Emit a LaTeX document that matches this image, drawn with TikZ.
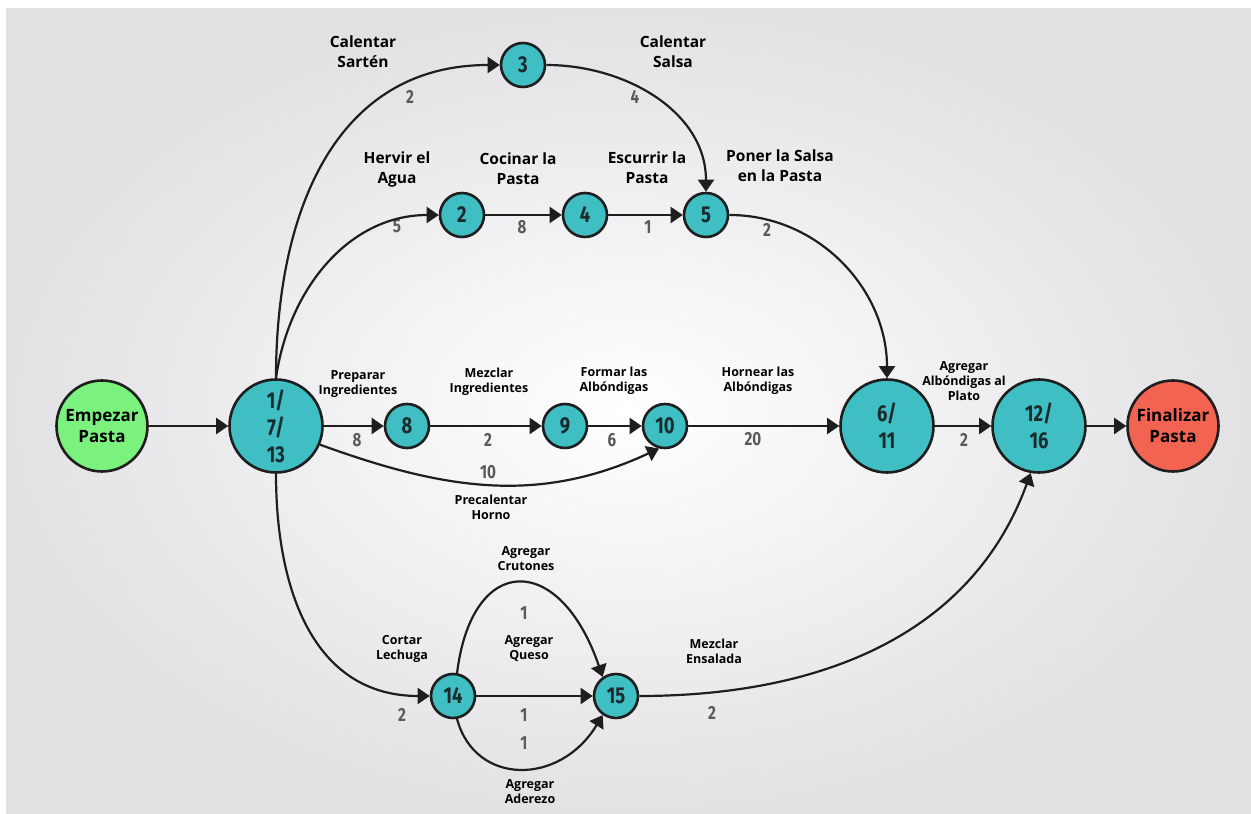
\documentclass[tikz,border=0pt]{standalone}
\usepackage{fontspec}
\setmainfont{Open Sans}
\newfontfamily\numfont[FakeStretch=0.8]{Fira Sans}
\usepackage{xcolor}
\usepackage{tikz}
\usetikzlibrary{arrows.meta}
\definecolor{cpmTeal}{HTML}{3FBEC4}
\definecolor{cpmGreen}{HTML}{7BF27E}
\definecolor{cpmRed}{HTML}{F26451}
\definecolor{cpmLine}{HTML}{1E1E1E}
\definecolor{cpmInk}{HTML}{1B2A2C}
\definecolor{cpmGray}{HTML}{5A5A5A}
\definecolor{cpmBg}{HTML}{E2E2E5}
\tikzset{
  evento/.style={
    circle,
    draw=cpmLine,
    line width=2.6pt,
    fill=cpmTeal,
    text=cpmInk,
    inner sep=0pt,
    align=center,
    font=\numfont\bfseries\fontsize{23}{27}\selectfont
  },
  chico/.style={evento, minimum size=44pt},
  grande/.style={evento, minimum size=93pt},
  extremo/.style={
    circle,
    draw=cpmLine,
    line width=2.6pt,
    minimum size=91pt,
    inner sep=0pt,
    align=center,
    text=black,
    font=\bfseries\fontsize{17}{21}\selectfont
  },
  tarea/.style={align=center, text=black, font=\bfseries\fontsize{15.5}{20}\selectfont},
  tareaS/.style={align=center, text=black, font=\bfseries\fontsize{12.5}{15}\selectfont},
  peso/.style={text=cpmGray, font=\numfont\bfseries\fontsize{19}{19}\selectfont},
  flecha/.style={-{Triangle[length=12pt,width=16pt]}, line width=2.2pt, draw=cpmLine}
}

\begin{document}
\begin{tikzpicture}[x=1pt,y=1pt]
  % fondo
  \useasboundingbox (0,0) rectangle (1251,814);
  \fill[white] (0,0) rectangle (1251,814);
  \shade[inner color=white, outer color=cpmBg] (6,0) rectangle (1251,805);

  % eventos
  \node[extremo, fill=cpmGreen] (inicio) at (102,388) {Empezar\\Pasta};
  \node[grande] (n1) at (276,388) {1/\\7/\\13};
  \node[chico] (n3) at (523,749) {3};
  \node[chico] (n2) at (462,599) {2};
  \node[chico] (n4) at (585,599) {4};
  \node[chico] (n5) at (706,599) {5};
  \node[chico] (n8) at (407,388) {8};
  \node[chico] (n9) at (565,388) {9};
  \node[chico] (n10) at (665,388) {10};
  \node[grande] (n6) at (887,388) {6/\\11};
  \node[grande] (n12) at (1039,388) {12/\\16};
  \node[extremo, fill=cpmRed] (fin) at (1173,388) {Finalizar\\Pasta};
  \node[chico] (n14) at (453,118) {14};
  \node[chico] (n15) at (616,118) {15};

  % actividades
  \node[tarea] (tSarten) at (363,762) {Calentar\\Sartén};
  \node[tarea] (tSalsa) at (673,762) {Calentar\\Salsa};
  \node[tarea] (tAgua) at (397,645) {Hervir el\\Agua};
  \node[tarea] (tCocinar) at (518,645) {Cocinar la\\Pasta};
  \node[tarea] (tEscurrir) at (647,646) {Escurrir la\\Pasta};
  \node[tarea] (tPoner) at (780,648) {Poner la Salsa\\en la Pasta};
  \node[tareaS] (tPreparar) at (358,430) {Preparar\\Ingredientes};
  \node[tareaS] (tMezclar) at (489,432) {Mezclar\\Ingredientes};
  \node[tareaS] (tFormar) at (614,433) {Formar las\\Albóndigas};
  \node[tareaS] (tHorno) at (491,307) {Precalentar\\Horno};
  \node[tareaS] (tHornear) at (758,433) {Hornear las\\Albóndigas};
  \node[tareaS] (tPlato) at (964,433) {Agregar\\Albóndigas al\\Plato};
  \node[tareaS] (tCrutones) at (526,255) {Agregar\\Crutones};
  \node[tareaS] (tQueso) at (529,165) {Agregar\\Queso};
  \node[tareaS] (tLechuga) at (402,165) {Cortar\\Lechuga};
  \node[tareaS] (tAderezo) at (530,22) {Agregar\\Aderezo};
  \node[tareaS] (tEnsalada) at (714,163) {Mezclar\\Ensalada};

  % duraciones
  \node[peso] (d13) at (410,717) {2};
  \node[peso] (d35) at (635,717) {4};
  \node[peso] (d12) at (397,588) {5};
  \node[peso] (d24) at (522,587) {8};
  \node[peso] (d45) at (648,587) {1};
  \node[peso] (d56) at (767,584) {2};
  \node[peso] (d18) at (357,374) {8};
  \node[peso] (d89) at (488,374) {2};
  \node[peso] (d910) at (612,374) {6};
  \node[peso] (d110) at (488,342) {10};
  \node[peso] (d106) at (753,375) {20};
  \node[peso] (d612) at (964,374) {2};
  \node[peso] (d114) at (402,99) {2};
  \node[peso] (dCrut) at (524,201) {1};
  \node[peso] (dQueso) at (524,99) {1};
  \node[peso] (dAder) at (524,71) {1};
  \node[peso] (d1512) at (712,101) {2};

  % conexiones
  \draw[flecha] (inicio) -- (n1);
  \draw[flecha] (n1.north) to[out=90,in=180,looseness=1.1] (n3);
  \draw[flecha] (n1.north) to[out=82,in=180] (n2);
  \draw[flecha] (n3) to[out=0,in=90] (n5);
  \draw[flecha] (n2) -- (n4);
  \draw[flecha] (n4) -- (n5);
  \draw[flecha] (n5) to[out=0,in=90] (n6);
  \draw[flecha] (n1) -- (n8);
  \draw[flecha] (n8) -- (n9);
  \draw[flecha] (n9) -- (n10);
  \draw[flecha] (n1.-23) to[out=-20,in=205] (n10.-105);
  \draw[flecha] (n10) -- (n6);
  \draw[flecha] (n6) -- (n12);
  \draw[flecha] (n12) -- (fin);
  \draw[flecha] (n1) to[out=-90,in=180,looseness=1.1] (n14);
  \draw[flecha] (n14.80) .. controls (472,262) and (560,262) .. (n15.125);
  \draw[flecha] (n14) -- (n15);
  \draw[flecha] (n14.-80) .. controls (475,28) and (560,28) .. (n15.-125);
  \draw[flecha] (n15) to[out=0,in=-110] (n12.-100);
\end{tikzpicture}
\end{document}
